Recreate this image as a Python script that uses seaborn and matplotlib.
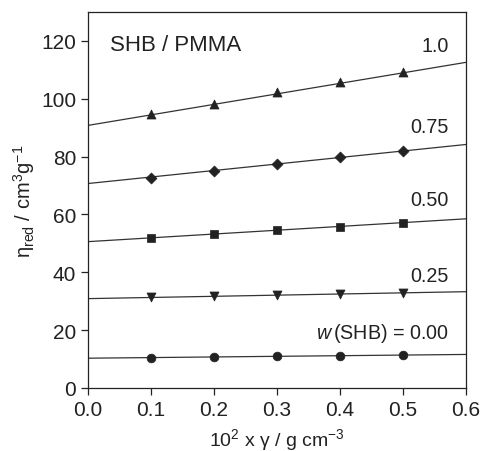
import numpy as np
import pandas as pd
import matplotlib
matplotlib.use("Agg")
import matplotlib.pyplot as plt
import seaborn as sns

# -----------------------------
# Data
# -----------------------------
conc = [0.1, 0.2, 0.3, 0.4, 0.5]
w_labels = ["w (SHB) = 0.00", "0.25", "0.50", "0.75", "1.0"]

eta_000 = [10.5, 10.7, 11.0, 11.1, 11.4]
eta_025 = [31.4, 31.8, 32.2, 32.4, 32.7]
eta_050 = [52.0, 53.2, 54.6, 55.7, 57.1]
eta_075 = [72.6, 75.2, 77.3, 79.8, 82.1]
eta_100 = [94.8, 98.3, 102.4, 105.9, 109.3]

# fitted lines, values at x = 0 and x = 0.6
fit_x = [0.0, 0.6]
fit_000 = [10.3, 11.6]
fit_025 = [30.9, 33.3]
fit_050 = [50.6, 58.5]
fit_075 = [70.7, 84.2]
fit_100 = [90.8, 112.6]

series = [
    (eta_000, fit_000, "o", 6.3),
    (eta_025, fit_025, "v", 6.5),
    (eta_050, fit_050, "s", 5.6),
    (eta_075, fit_075, "D", 5.6),
    (eta_100, fit_100, "^", 6.5),
]

# -----------------------------
# Style
# -----------------------------
sns.set_style("ticks")
plt.rcParams['font.family'] = ['Liberation Sans', 'DejaVu Sans']
plt.rcParams['mathtext.fontset'] = 'custom'
plt.rcParams['mathtext.rm'] = 'Liberation Sans'
plt.rcParams['mathtext.it'] = 'Liberation Sans:italic'

fig = plt.figure(figsize=(4.82, 4.52), dpi=100)
ax = fig.add_axes([0.1826, 0.1394, 0.7842, 0.8318])

dark = "#222222"
for eta, fit, mk, ms in series:
    sns.lineplot(x=fit_x, y=fit, ax=ax, color="#333333", linewidth=0.9)
    sns.scatterplot(x=conc, y=eta, ax=ax, marker=mk, s=ms ** 2,
                    color=dark, edgecolor=dark, linewidth=0.5, zorder=3)

# curve labels
label_y = [19.3, 39.0, 65.2, 90.3, 118.3]
for lab, yy in zip(w_labels, label_y):
    if lab.startswith("w"):
        ax.text(0.573, yy, r"$\it{w}\,$(SHB) = 0.00", ha="right", va="center",
                fontsize=14.2, color="#222222")
    else:
        ax.text(0.573, yy, lab, ha="right", va="center", fontsize=14.2, color="#222222")

ax.text(0.035, 118.6, "SHB / PMMA", ha="left", va="center", fontsize=16, color="#222222")

ax.set_xlim(0, 0.6)
ax.set_ylim(0, 130)
ax.set_xticks(np.arange(0, 0.61, 0.1))
ax.set_xticklabels([f"{v:.1f}" for v in np.arange(0, 0.61, 0.1)])
ax.set_yticks(range(0, 121, 20))
ax.tick_params(axis="both", direction="out", length=5, width=0.9,
               labelsize=15, colors="#222222", top=False, right=False)

for sp in ax.spines.values():
    sp.set_linewidth(0.9)
    sp.set_color("#222222")

ax.set_xlabel(r"10$^2$ x γ / g cm$^{-3}$", fontsize=14, color="#222222", labelpad=5)
ax.set_ylabel(r"η$_{\rm red}$ / cm$^3$g$^{-1}$", fontsize=14.5, color="#222222", labelpad=3)

fig.savefig("out.png", dpi=100)
